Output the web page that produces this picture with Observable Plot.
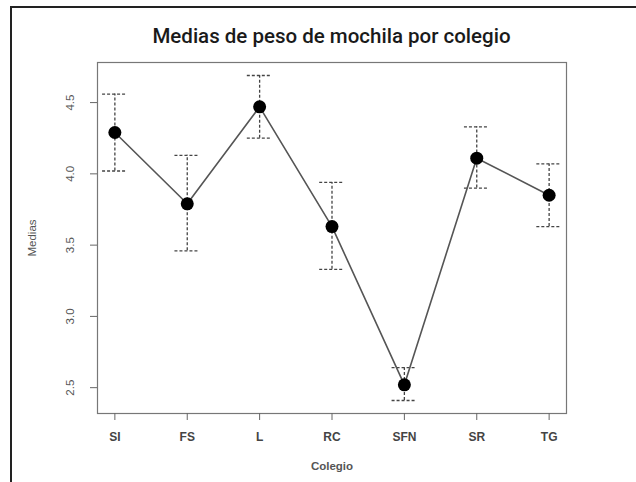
<!DOCTYPE html>
<html>
<head>
<meta charset="utf-8">
<script src="https://cdn.jsdelivr.net/npm/d3@7"></script>
<script src="https://cdn.jsdelivr.net/npm/@observablehq/plot@0.6"></script>
<style>
  body { margin: 0; background: #fff; font-family: "Liberation Sans", Arial, sans-serif; }
  #wrap { position: relative; width: 636px; height: 482px; overflow: hidden; }
  #box { position: absolute; left: 10px; top: 6px; right: -10px; bottom: -10px; border-left: 2px solid #222; border-top: 2px solid #222; }
  #title { position: absolute; top: 24px; left: 97px; width: 469px; text-align: center; font-family: Roboto, "Liberation Sans", Arial, sans-serif; font-size: 20.5px; font-weight: 500; color: #1a1a1a; }
  #chart { position: absolute; left: 0; top: 0; }
</style>
</head>
<body>
<div id="wrap">
  <div id="box"></div>
  <div id="chart"></div>
  <div id="title">Medias de peso de mochila por colegio</div>
</div>
<script>
const colegios = ["SI", "FS", "L", "RC", "SFN", "SR", "TG"];
const medias   = [4.29, 3.79, 4.47, 3.63, 2.52, 4.11, 3.85];
const inferior = [4.02, 3.46, 4.25, 3.33, 2.41, 3.90, 3.63];
const superior = [4.56, 4.13, 4.69, 3.94, 2.64, 4.33, 4.07];
const yTicks   = [2.5, 3.0, 3.5, 4.0, 4.5];

const data = colegios.map((c, i) => ({
  idx: i + 1, colegio: c, media: medias[i], lo: inferior[i], hi: superior[i]
}));

// R-style 4% padding on both axes
const n = colegios.length;
const xPad = (n - 1) * 0.04;
const yMin = d3.min(inferior), yMax = d3.max(superior);
const yPad = (yMax - yMin) * 0.04;
const capHalf = 0.17;

const plot = Plot.plot({
  width: 636,
  height: 482,
  marginLeft: 97,
  marginRight: 70,
  marginTop: 62,
  marginBottom: 69,
  style: { fontFamily: "Liberation Sans, Arial, sans-serif", background: "transparent" },
  x: { type: "linear", domain: [1 - xPad, n + xPad] },
  y: { domain: [yMin - yPad, yMax + yPad] },
  marks: [
    Plot.frame({ stroke: "#777", strokeWidth: 1.2 }),
    Plot.axisX({
      ticks: d3.range(1, n + 1),
      tickFormat: d => colegios[d - 1],
      tickSize: 7, tickPadding: 12, fontSize: 12, fontWeight: 600,
      fill: "#444", stroke: "#666",
      label: null
    }),
    Plot.axisX({
      ticks: [], label: "Colegio", labelAnchor: "center", labelOffset: 56, labelArrow: "none",
      fontSize: 11.5, fontWeight: 600, fill: "#555", tickSize: 0
    }),
    Plot.axisY({
      ticks: yTicks, tickFormat: d3.format(".1f"),
      tickSize: 7, tickPadding: 17, tickRotate: -90, fontSize: 11.5,
      fill: "#555", stroke: "#666",
      label: null
    }),
    Plot.axisY({
      ticks: [], label: "Medias", labelAnchor: "center", labelOffset: 70, labelArrow: "none",
      fontSize: 11.5, fill: "#555", tickSize: 0
    }),
    Plot.ruleX(data, { x: "idx", y1: "lo", y2: "hi", stroke: "#444", strokeWidth: 1.3, strokeDasharray: "3,2" }),
    Plot.ruleY(data, { x1: d => d.idx - capHalf, x2: d => d.idx + capHalf, y: "hi", stroke: "#444", strokeWidth: 1.3, strokeDasharray: "3,2" }),
    Plot.ruleY(data, { x1: d => d.idx - capHalf, x2: d => d.idx + capHalf, y: "lo", stroke: "#444", strokeWidth: 1.3, strokeDasharray: "3,2" }),
    Plot.line(data, { x: "idx", y: "media", stroke: "#555", strokeWidth: 1.6 }),
    Plot.dot(data, { x: "idx", y: "media", r: 6.5, fill: "#000", stroke: "none" })
  ]
});
document.getElementById("chart").appendChild(plot);
</script>
</body>
</html>
